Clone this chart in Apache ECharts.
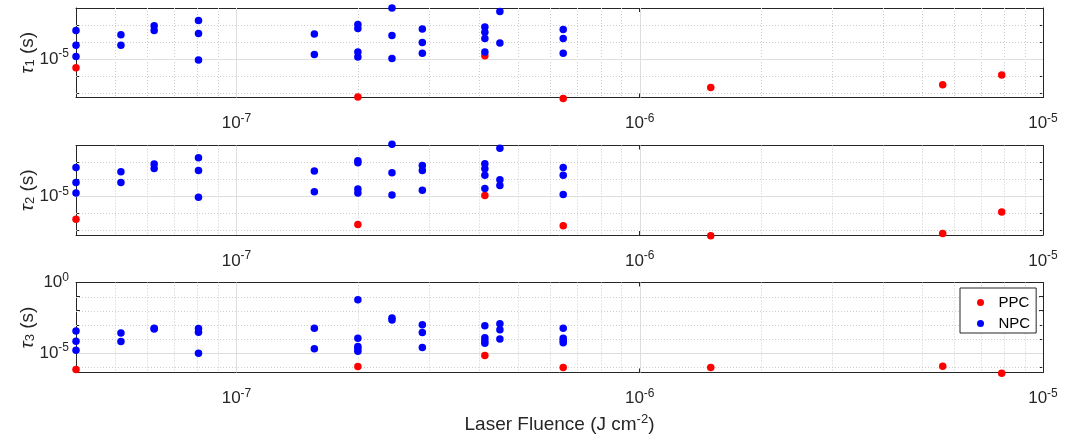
<!DOCTYPE html>
<html>
<head>
<meta charset="utf-8">
<script src="https://cdn.jsdelivr.net/npm/echarts@6/dist/echarts.min.js"></script>
<style>
    html, body { margin: 0; padding: 0; background: #fff; }
    #chart { width: 1065px; height: 440px; }
</style>
</head>
<body>
<div id="chart"></div>
<script>
// laser fluence (J cm^-2) of each measurement
const fluence = [4.0e-8, 5.17e-8, 6.25e-8, 8.05e-8, 1.56e-7, 2.0e-7, 2.43e-7, 2.89e-7, 4.13e-7, 4.5e-7, 6.46e-7, 1.5e-6, 5.64e-6, 7.9e-6];

// NPC time constants, one list per fluence
const npcTau1 = [
    [4.8e-4, 6.3e-5, 1.4e-5], [2.67e-4, 6.3e-5], [9.1e-4, 4.8e-4], [1.86e-3, 3.1e-4, 8.6e-6],
    [2.9e-4, 1.84e-5], [1.05e-3, 6.3e-4, 2.56e-5, 1.3e-5], [1.0e-2, 2.43e-4, 1.07e-5],
    [5.8e-4, 9.4e-5, 2.2e-5], [7.6e-4, 3.7e-4, 1.6e-4, 2.56e-5], [6.3e-3, 8.7e-5],
    [5.5e-4, 1.6e-4, 2.2e-5], [], [], []
];
const npcTau2 = [
    [5.1e-4, 6.6e-5, 1.57e-5], [2.8e-4, 6.6e-5], [8.1e-4, 4.4e-4], [1.9e-3, 3.4e-4, 9.1e-6],
    [3.2e-4, 1.87e-5], [1.26e-3, 9.6e-4, 2.7e-5, 1.57e-5], [1.2e-2, 2.5e-4, 1.2e-5],
    [6.6e-4, 3.4e-4, 2.35e-5], [8.4e-4, 4.3e-4, 1.8e-4, 2.9e-5], [6.8e-3, 9.5e-5, 4.4e-5],
    [5.1e-4, 1.8e-4, 1.3e-5], [], [], []
];
const npcTau3 = [
    [3.7e-4, 6.9e-5, 1.6e-5], [2.6e-4, 6.6e-5], [5.8e-4, 5.0e-4], [5.5e-4, 3.0e-4, 9.8e-6],
    [5.8e-4, 2.0e-5], [5.9e-2, 1.1e-4, 2.9e-5, 2.0e-5, 1.36e-5], [3.0e-3, 2.2e-3],
    [1.0e-3, 2.8e-4, 2.45e-5], [8.5e-4, 1.2e-4, 7.4e-5, 5.0e-5], [1.2e-3, 4.4e-4, 9.7e-5],
    [5.8e-4, 1.1e-4, 7.4e-5, 5.3e-5], [], [], []
];

// PPC time constants (null = no value)
const ppcTau1 = [3.0e-6, null, null, null, null, 5.7e-8, null, null, 1.54e-5, null, 4.7e-8, 2.1e-7, 3.0e-7, 1.12e-6];
const ppcTau2 = [4.6e-7, null, null, null, null, 2.2e-7, null, null, 1.13e-5, null, 1.9e-7, 4.8e-8, 6.5e-8, 1.23e-6];
const ppcTau3 = [6.8e-7, null, null, null, null, 1.1e-6, null, null, 6.6e-6, null, 9.4e-7, 9.4e-7, 1.18e-6, 3.7e-7];

// axis ranges and ticks
const xRange = [4.0e-8, 1.0e-5];
const yRanges = [[5.37e-8, 1.0e-2], [5.37e-8, 1.0e-2], [4.17e-7, 1.0]];
const xMajor = [1e-7, 1e-6];
const xMinor = [5e-8, 6e-8, 7e-8, 8e-8, 9e-8, 2e-7, 3e-7, 4e-7, 5e-7, 6e-7, 7e-7, 8e-7, 9e-7,
    2e-6, 3e-6, 4e-6, 5e-6, 6e-6, 7e-6, 8e-6, 9e-6];
const xLabelExps = [-7, -6, -5];
const yLabelExps = [[-5], [-5], [0, -5]];
const yMajor = [[1e-5], [1e-5], [1e-5]];
const yMinor = [[1e-7, 1e-6, 1e-4, 1e-3], [1e-7, 1e-6, 1e-4, 1e-3], [1e-6, 1e-4, 1e-3, 1e-2, 1e-1]];
const yNames = ["1", "2", "3"];

const npcAll = [npcTau1, npcTau2, npcTau3];
const ppcAll = [ppcTau1, ppcTau2, ppcTau3];

const FONT = "'Liberation Sans', Arial, sans-serif";
const INK = "#262626";
const gridTops = [8, 145.5, 282.5];
const gridHeights = [89.5, 89.5, 90];

function powLabel(value, exps) {
    const e = Math.log10(value);
    const r = Math.round(e);
    if (Math.abs(e - r) > 1e-6 || exps.indexOf(r) < 0) return "";
    return "{b|10}{s|" + r + "}";
}
const powRich = {
    b: { fontSize: 17, lineHeight: 22, fontFamily: FONT, color: INK },
    s: { fontSize: 12, lineHeight: 13, verticalAlign: "top", fontFamily: FONT, color: INK }
};

const chart = echarts.init(document.getElementById("chart"), null, { renderer: "canvas" });

const grids = [], xAxes = [], yAxes = [], series = [];
const minorStyle = { stroke: "#cdcdcd", lineWidth: 1, lineDash: [1, 2] };
const majorStyle = { stroke: "#dedede", lineWidth: 1 };

// one grid line per data item: [value, "x" | "y", "major" | "minor"]
function gridLineItem(i) {
    return function (params, api) {
        const cs = params.coordSys;
        const v = api.value(0);
        const dir = api.value(1);
        const style = api.value(2) === "major" ? majorStyle : minorStyle;
        let shape;
        if (dir === "x") {
            const px = Math.round(api.coord([v, yRanges[i][0]])[0]) + 0.5;
            shape = { x1: px, y1: cs.y, x2: px, y2: cs.y + cs.height };
        } else {
            const py = Math.round(api.coord([xRange[0], v])[1]) + 0.5;
            shape = { x1: cs.x, y1: py, x2: cs.x + cs.width, y2: py };
        }
        return { type: "line", shape: shape, style: style, silent: true };
    };
}

for (let i = 0; i < 3; i++) {
    grids.push({ left: 76, right: 22, top: gridTops[i], height: gridHeights[i], outerBoundsMode: "none" });
    const axisLine = { show: true, onZero: false, lineStyle: { color: INK, width: 1 } };
    const tick = { show: true, inside: true, length: 4, lineStyle: { color: INK } };
    xAxes.push({
        type: "log", gridIndex: i, position: "bottom", min: xRange[0], max: xRange[1],
        axisLine: axisLine, axisTick: tick, splitLine: { show: false },
        axisLabel: {
            margin: 15, showMinLabel: true, showMaxLabel: true,
            formatter: v => powLabel(v, xLabelExps), rich: powRich
        },
        name: i === 2 ? "{n|Laser Fluence (J cm}{s|-2}{n|)}" : "",
        nameLocation: "middle", nameGap: 40, nameMoveOverlap: false,
        nameTextStyle: {
            rich: {
                n: { fontSize: 19, lineHeight: 24, fontFamily: FONT, color: INK },
                s: { fontSize: 13, lineHeight: 14, verticalAlign: "top", fontFamily: FONT, color: INK }
            }
        }
    });
    xAxes.push({
        type: "log", gridIndex: i, position: "top", min: xRange[0], max: xRange[1],
        axisLine: axisLine, axisTick: tick, axisLabel: { show: false }, splitLine: { show: false }
    });
    yAxes.push({
        type: "log", gridIndex: i, position: "left", min: yRanges[i][0], max: yRanges[i][1],
        axisLine: axisLine, axisTick: tick, splitLine: { show: false },
        axisLabel: {
            margin: 7, showMinLabel: true, showMaxLabel: true,
            formatter: v => powLabel(v, yLabelExps[i]), rich: powRich
        },
        name: "{t|τ}{d|" + yNames[i] + "}{n| (s)}",
        nameLocation: "middle", nameRotate: 90, nameGap: 39, nameMoveOverlap: false,
        nameTextStyle: {
            rich: {
                t: { fontSize: 19, lineHeight: 19, verticalAlign: "top", fontStyle: "italic", fontFamily: FONT, color: INK },
                d: { fontSize: 13, lineHeight: 13, verticalAlign: "bottom", padding: [14, 0, 0, 0], fontFamily: FONT, color: INK },
                n: { fontSize: 19, lineHeight: 19, verticalAlign: "top", fontFamily: FONT, color: INK }
            }
        }
    });
    yAxes.push({
        type: "log", gridIndex: i, position: "right", min: yRanges[i][0], max: yRanges[i][1],
        axisLine: axisLine, axisTick: tick, axisLabel: { show: false }, splitLine: { show: false }
    });

    // grid lines, placed through the axes
    const lines = [];
    xMinor.forEach(v => lines.push([v, "x", "minor"]));
    xMajor.forEach(v => lines.push([v, "x", "major"]));
    yMinor[i].forEach(v => lines.push([v, "y", "minor"]));
    yMajor[i].forEach(v => lines.push([v, "y", "major"]));
    series.push({
        type: "custom", name: "grid" + i, xAxisIndex: 2 * i, yAxisIndex: 2 * i, z: 1,
        silent: true, clip: false,
        dimensions: ["v", { name: "dir", type: "ordinal" }, { name: "kind", type: "ordinal" }],
        encode: { x: -1, y: -1 },
        renderItem: gridLineItem(i), data: lines
    });

    const ppcData = [];
    ppcAll[i].forEach((v, k) => { if (v !== null) ppcData.push([fluence[k], v]); });
    const npcData = [];
    npcAll[i].forEach((list, k) => list.forEach(v => npcData.push([fluence[k], v])));

    series.push({
        type: "scatter", name: "PPC", xAxisIndex: 2 * i, yAxisIndex: 2 * i, z: 3, clip: false,
        symbolSize: 7.5, itemStyle: { color: "#ff0000", opacity: 1 }, data: ppcData
    });
    series.push({
        type: "scatter", name: "NPC", xAxisIndex: 2 * i, yAxisIndex: 2 * i, z: 4, clip: false,
        symbolSize: 7.5, itemStyle: { color: "#0000ff", opacity: 1 }, data: npcData
    });
}

chart.setOption({
    animation: false,
    backgroundColor: "#fff",
    grid: grids,
    xAxis: xAxes,
    yAxis: yAxes,
    legend: {
        data: ["PPC", "NPC"], orient: "vertical", left: 960, top: 288,
        backgroundColor: "#fff", borderColor: INK, borderWidth: 1, borderRadius: 0,
        padding: [7, 6, 2, 17], itemGap: 6, itemWidth: 26, itemHeight: 7,
        icon: "circle", selectedMode: false, z: 10,
        textStyle: { fontSize: 15, lineHeight: 14, fontFamily: FONT, color: "#000" }
    },
    series: series
});
</script>
</body>
</html>
